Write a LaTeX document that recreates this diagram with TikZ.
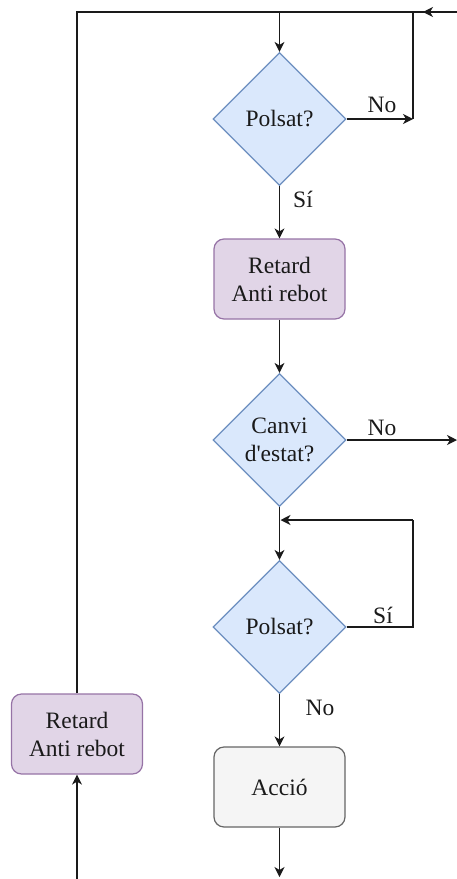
\documentclass[tikz,border=0pt]{standalone}
\usepackage{fontspec}
\setmainfont{Liberation Serif}
\newfontfamily\labelfont{Liberation Serif}
\usetikzlibrary{shapes.geometric,arrows.meta}
\definecolor{decfill}{HTML}{DAE8FC}
\definecolor{decline}{HTML}{6C8EBF}
\definecolor{delfill}{HTML}{E1D5E7}
\definecolor{delline}{HTML}{9673A6}
\definecolor{actfill}{HTML}{F5F5F5}
\definecolor{actline}{HTML}{666666}
\definecolor{ink}{HTML}{1A1A1A}
\tikzset{
  txt/.style={font=\labelfont\fontsize{23.5}{28}\selectfont, text=ink},
  decision/.style={txt, diamond, aspect=1, draw=decline, fill=decfill, line width=1.2pt,
    minimum width=133pt, minimum height=133pt, inner sep=0pt, align=center},
  delaybox/.style={txt, rectangle, rounded corners=10pt, draw=delline, fill=delfill, line width=1.2pt,
    minimum width=131pt, minimum height=80pt, align=center},
  actbox/.style={txt, rectangle, rounded corners=10pt, draw=actline, fill=actfill, line width=1.2pt,
    minimum width=131pt, minimum height=80pt, align=center},
  conn/.style={draw=ink, line width=1.3pt},
  flow/.style={conn, -{Stealth[length=10pt,width=10pt,inset=3pt]}},
  lbl/.style={txt, inner sep=0pt}
}
\begin{document}
\begin{tikzpicture}[x=1pt,y=-1pt]
  \useasboundingbox (0,0) rectangle (457,879);

  % process blocks
  \node[decision] (d1) at (279.5,119) {Polsat?};
  \node[delaybox] (r1) at (279.5,279) {Retard\\Anti rebot};
  \node[decision] (d2) at (279.5,440) {Canvi\\d\textquotesingle estat?};
  \node[decision] (d3) at (279.5,627) {Polsat?};
  \node[actbox]   (ac) at (279.5,787) {Acció};
  \node[delaybox] (r2) at (77,734) {Retard\\Anti rebot};

  % route points
  \coordinate (topL)  at (77,12);
  \coordinate (topR)  at (457,12);
  \coordinate (topIn) at (423,12);
  \coordinate (topC)  at (279.5,12);
  \coordinate (n1)    at (413,119);
  \coordinate (n1top) at (413,12);
  \coordinate (n2)    at (457,440);
  \coordinate (loopR) at (413,520);
  \coordinate (loopIn) at (280.5,520);
  \coordinate (outB)  at (279.5,877);
  \coordinate (inB)   at (77,879);

  % main loop back to the top
  \draw[conn] (r2.north) -- (topL) -- (topR);
  \draw[flow] (topR) -- (topIn);
  \draw[flow] (topC) -- (d1.north);

  % first check
  \draw[flow] (d1.east) -- (n1);
  \draw[conn] (n1) -- (n1top);
  \node[lbl] at (382,105) {No};
  \draw[flow] (d1.south) -- (r1.north);
  \node[lbl] at (303,199) {Sí};

  % debounce and state change
  \draw[flow] (r1.south) -- (d2.north);
  \draw[flow] (d2.east) -- (n2);
  \node[lbl] at (382,428) {No};
  \draw[flow] (d2.south) -- (d3.north);

  % wait for release
  \draw[conn] (d3.east) -- (d3.east -| loopR) -- (loopR);
  \draw[flow] (loopR) -- (loopIn);
  \node[lbl] at (383,615) {Sí};
  \draw[flow] (d3.south) -- (ac.north);
  \node[lbl] at (320,708) {No};

  % action and exits
  \draw[flow] (ac.south) -- (outB);
  \draw[flow] (inB) -- (r2.south);
\end{tikzpicture}
\end{document}
